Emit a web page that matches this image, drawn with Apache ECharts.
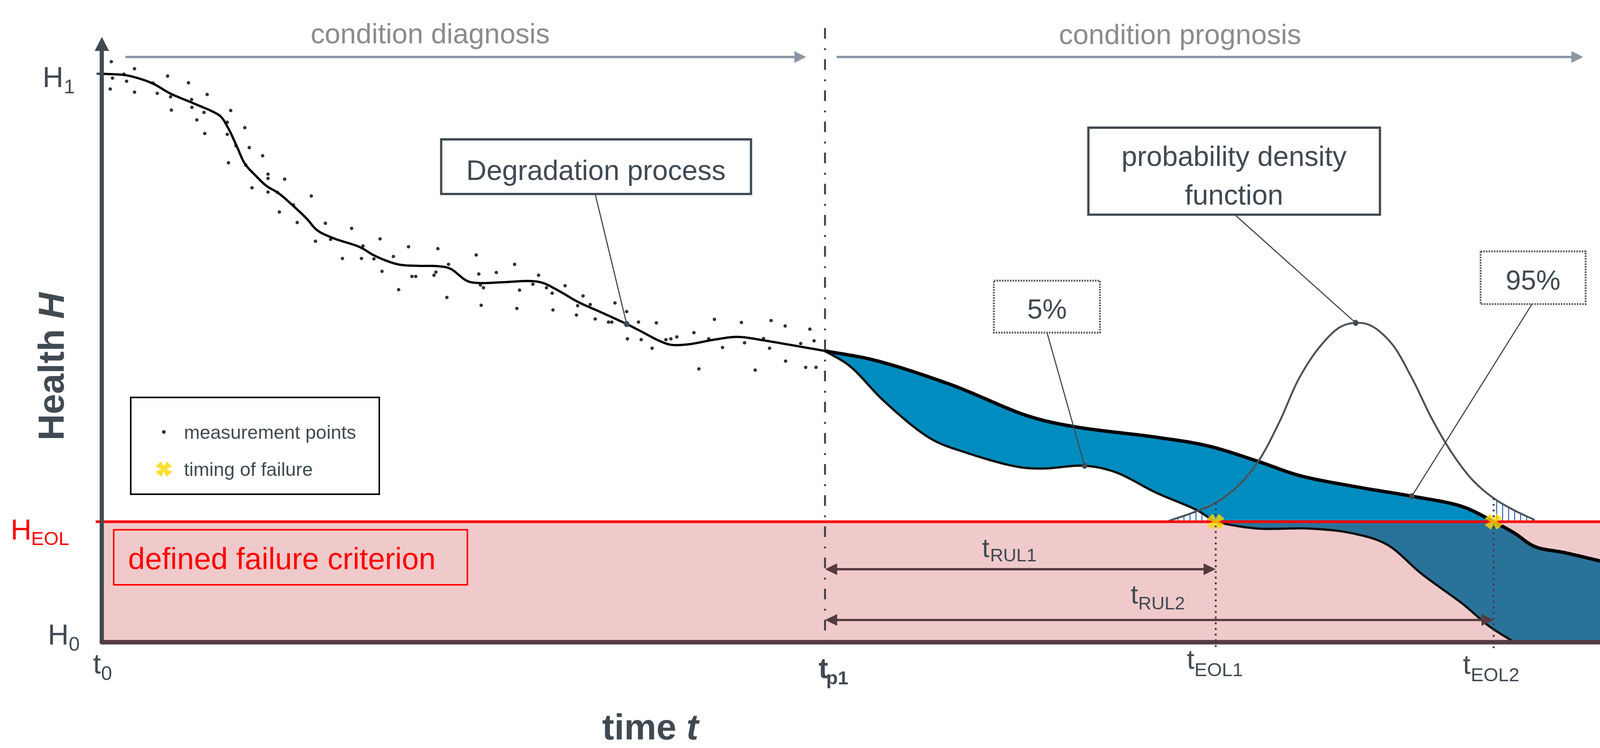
<!DOCTYPE html>
<html>
<head>
<meta charset="utf-8">
<title>Condition diagnosis and prognosis</title>
<script src="https://cdn.jsdelivr.net/npm/echarts@6.0.0/dist/echarts.min.js"></script>
<style>
html, body { margin: 0; padding: 0; background: #ffffff; width: 100%; height: 100%; overflow: hidden; }
#chart { width: 100%; height: 100%; }
</style>
</head>
<body>
<div id="chart"></div>
<script>
// ================= values =================
const timeRange = [0, 100];
const healthRange = [0, 105.25];
const H_1 = 100;
const H_EOL = 21.2;
const H_0 = 0;
const T_0 = 0;
const T_P1 = 48.27;
const T_EOL1 = 74.35;
const T_EOL2 = 92.9;

const healthTickValues = [H_1, H_EOL, H_0];
const healthTickLabels = [['H', '1'], ['H', 'EOL'], ['H', '0']];
const timeTickValues = [T_0, T_P1, T_EOL1, T_EOL2];
const timeTickLabels = [['t', '0'], ['t', 'p1'], ['t', 'EOL1'], ['t', 'EOL2']];
const rulLabels = [['t', 'RUL1'], ['t', 'RUL2']];
const rulEnds = [T_EOL1, T_EOL2];

const degradationProcess = [
  [0, 100], [1.47, 99.79], [2.11, 99.45], [3.35, 98.35], [4.59, 96.5], [6.01, 94.92],
  [7.61, 93.06], [7.97, 92.38], [8.5, 90.11], [9.03, 87.09], [9.56, 84.13], [10.27, 82.07],
  [10.98, 80.29], [11.8, 78.98], [12.79, 76.72], [13.67, 74.52], [14.38, 72.46], [15.45, 71.08],
  [17.22, 69.51], [18.11, 68.13], [19.0, 67.1], [19.89, 66.41], [21.11, 66.21], [22.45, 66.14],
  [23.24, 65.73], [24.4, 63.53], [25.16, 63.19], [26.71, 63.32], [28.67, 63.53], [29.45, 63.19],
  [30.59, 61.68], [31.76, 59.89], [33.33, 58.03], [35.03, 55.97], [36.05, 54.6], [37.21, 53.02],
  [37.98, 52.33], [39.14, 52.4], [40.89, 53.23], [42.44, 53.71], [44.19, 53.09], [45.74, 52.4],
  [48.27, 51.24]
];

const measurementPoints = [
  [0.63, 102.13], [2.18, 100.89], [4.39, 99.59], [5.78, 98.42], [0.71, 99.24], [1.47, 99.93],
  [1.65, 98.69], [0.56, 97.32], [2.18, 96.77], [3.42, 98.35], [3.7, 96.56], [4.59, 95.95],
  [4.64, 93.61], [5.99, 95.47], [6.01, 94.09], [7.03, 96.36], [6.82, 93.2], [6.34, 91.89],
  [6.87, 89.49], [8.6, 93.54], [8.37, 91.48], [8.37, 89.35], [9.54, 90.52], [8.95, 87.36],
  [9.84, 87.02], [8.45, 84.34], [9.61, 83.93], [10.73, 85.58], [11.09, 82.35], [11.09, 81.59],
  [12.2, 81.46], [10.02, 79.94], [11.09, 79.19], [11.72, 79.12], [13.98, 78.5], [12.79, 76.92],
  [11.85, 75.69], [13.04, 73.83], [14.92, 73.7], [16.67, 72.8], [14.26, 70.54], [15.27, 70.88],
  [18.57, 70.95], [17.43, 69.71], [20.47, 69.57], [16.06, 67.51], [17.33, 67.51], [18.16, 67.44],
  [19.46, 67.86], [18.7, 65.25], [20.7, 64.35], [20.95, 64.35], [19.81, 62.02], [22.43, 69.23],
  [23.14, 66.48], [22.3, 65.11], [22.17, 64.56], [23.03, 60.65], [24.99, 68.13], [25.16, 64.77],
  [26.33, 65.04], [27.55, 66.48], [25.27, 62.84], [25.47, 62.36], [25.32, 59.27], [27.88, 61.95],
  [27.7, 58.72], [28.77, 62.98], [29.15, 64.56], [29.68, 62.36], [30.06, 61.4], [30.11, 58.45],
  [30.92, 62.71], [32.12, 60.92], [31.76, 59.2], [32.6, 59.41], [31.68, 57.55], [32.93, 56.87],
  [33.82, 56.32], [34.04, 56.32], [34.25, 59.68], [35.03, 58.17], [35.82, 56.32], [37.01, 56.18],
  [35.08, 53.37], [36.0, 53.23], [36.73, 51.72], [39.52, 54.46], [37.65, 53.23], [37.98, 53.37],
  [38.38, 53.71], [40.51, 53.37], [40.89, 56.8], [41.43, 51.85], [42.69, 56.25], [42.9, 52.68],
  [44.17, 53.43], [44.67, 56.59], [45.61, 55.63], [44.57, 51.72], [46.65, 52.54], [47.26, 55.08],
  [47.54, 53.02], [39.85, 48.08], [43.61, 47.87], [45.64, 49.45], [46.98, 48.35], [47.67, 48.35]
];

const prognosisUpper = [
  [48.27, 51.24], [51.6, 49.59], [56.72, 45.26], [61.85, 39.77], [64.92, 37.91], [70.37, 36.06],
  [73.8, 34.55], [77.19, 31.8], [79.93, 29.33], [84.02, 27.2], [87.44, 25.69], [90.84, 23.83],
  [92.9, 21.2], [94.27, 19.23], [95.64, 16.83], [97.69, 15.73], [100, 14.29]
];

const prognosisLower = [
  [48.27, 51.24], [49.9, 48.63], [52.28, 42.24], [55.35, 35.78], [57.74, 33.31], [61.16, 30.84],
  [62.86, 30.56], [65.6, 31.04], [67.63, 29.94], [70.37, 26.31], [73.11, 23.21], [74.35, 21.2],
  [75.14, 20.74], [77.19, 19.99], [80.62, 19.99], [83.33, 19.23], [85.74, 17.24], [88.13, 11.95],
  [90.84, 6.73], [92.57, 2.88], [94.27, 0]
];

const probabilityDensity = [
  [71.23, 21.36], [72.76, 22.73], [74.3, 24.45], [75.83, 27.47], [77.19, 31.8], [78.56, 38.53],
  [79.93, 46.5], [81.3, 51.99], [82.65, 55.43], [83.69, 56.18], [84.7, 55.7], [86.07, 52.61],
  [87.44, 46.5], [88.81, 39.15], [90.18, 33.04], [91.53, 28.43], [92.9, 25.34], [94.27, 23.21],
  [95.64, 21.5]
];

const failureTimings = [[T_EOL1, H_EOL], [T_EOL2, H_EOL]];

// ================= page scale (layout designed for 4210 x 1916) =================
const VW = document.documentElement.clientWidth || window.innerWidth || 4210;
const VH = document.documentElement.clientHeight || window.innerHeight || 1916;
const SX = VW / 4210, SY = VH / 1916, SF = Math.min(SX, SY);
const X = v => v * SX, Y = v => v * SY, F = v => v * SF;

// ================= styling and layout =================
const FONT = '"Liberation Sans", Arial, Helvetica, sans-serif';
const COL = {
  axisY: '#414a53', axisX: '#553a40', text: '#414a53', phaseText: '#8c8c8c', phaseArrow: '#8a97a4',
  red: '#ff0000', pink: '#f0cacb', blue: '#008cbe', blueDark: '#29739a', hatch: '#1f5fb4',
  curve: '#000000', pdf: '#4b5259', leader: '#414a53', rul: '#553a40', eol: '#4a3b42',
  yellow: '#ffd700', legendBorder: '#000000'
};
const CROSS = 'path://M0,13L15,0L22,13L29,0L44,13L29,20L44,27L29,40L22,27L15,40L0,27L15,20Z';
const LEGEND_CROSS = 'path://M0,13L15,0L22,13L29,0L44,13L29,20L44,27L29,40L22,27L15,40L0,27L15,20ZM70,40L69.99,40L70,39.99Z';
const LEGEND_DOT = 'path://M0,0L0.01,0L0,0.01ZM70,40L69.99,40L70,39.99ZM17,20A5,5 0 1,0 27,20A5,5 0 1,0 17,20Z';

const LAYOUT = {
  grid: { left: 268, right: 0, top: 112.5, bottom: 271 },
  healthLabels: [
    { main: [-156, 31], sub: [-100, 48], size: 76, subSize: 52, color: COL.text },
    { main: [-240, 43], sub: [-186, 58], size: 76, subSize: 50, color: COL.red },
    { main: [-142, 3], sub: [-87, 20], size: 76, subSize: 52, color: COL.text }
  ],
  timeLabels: [
    { main: [-23, 77], sub: [-2, 95], size: 74, subSize: 52, bold: false },
    { main: [-17, 89], sub: [3, 106], size: 76, subSize: 50, bold: true },
    { main: [-76, 66], sub: [-56, 85], size: 72, subSize: 50, bold: false },
    { main: [-81, 79], sub: [-60, 98], size: 72, subSize: 50, bold: false }
  ],
  rul: { arrowH: [12.84, 3.91], label: [[58.75, 15.18], [68.67, 7.01]], sub: [[21, 13], [20, 17]],
         size: 70, subSize: 48, head: [32, 15], width: 6 },
  phases: [
    { text: 'condition diagnosis', textAt: [21.92, 105.56], arrow: [1.57, 47.01] },
    { text: 'condition prognosis', textAt: [71.97, 105.43], arrow: [49.04, 98.88] }
  ],
  phaseArrowH: 102.95, phaseHead: [31, 15], phaseSize: 74,
  tp1LineTop: 108.04, eolLineBottom: -1.5, hEolLineStart: -0.41,
  boxes: [
    { rect: [22.65, 88.46, 43.33, 78.85], lines: ['Degradation process'], textAt: [[32.98, 81.52]], size: 74,
      dotted: false, from: [32.93, 78.85], curve: 'degradation', targetT: 35.03 },
    { rect: [65.85, 90.52, 85.31, 75.21], lines: ['probability density', 'function'], textAt: [[75.57, 84.0], [75.57, 77.2]], size: 74,
      dotted: false, from: [75.62, 75.21], curve: 'pdfPeak' },
    { rect: [59.54, 63.6, 66.62, 54.46], lines: ['5%'], textAt: [[63.09, 57.07]], size: 72,
      dotted: true, from: [63.09, 54.46], curve: 'lower', targetT: 65.6 },
    { rect: [92.03, 68.75, 99.04, 59.48], lines: ['95%'], textAt: [[95.53, 62.16]], size: 72,
      dotted: true, from: [95.46, 59.48], curve: 'upper', targetT: 87.44 }
  ],
  failureBox: { rect: [0.79, 19.78, 24.4, 10.1], textAt: [1.75, 13.05], size: 80, text: 'defined failure criterion' },
  healthTitle: { at: [-3.4, 48.49], size: 96 },
  timeTitle: { at: [36.61, -16.9], size: 95 },
  hatchStep: 0.4
};

// ================= helpers =================
// centripetal Catmull-Rom through pixel points
function spline(pts, seg) {
  seg = seg || 16;
  const n = pts.length;
  if (n < 3) return pts.map(p => p.slice());
  const ext = [[2 * pts[0][0] - pts[1][0], 2 * pts[0][1] - pts[1][1]]].concat(pts,
    [[2 * pts[n - 1][0] - pts[n - 2][0], 2 * pts[n - 1][1] - pts[n - 2][1]]]);
  const d = (a, b) => Math.max(Math.pow(Math.hypot(b[0] - a[0], b[1] - a[1]), 0.5), 1e-4);
  const lerp = (a, b, ta, tb, t) => {
    const w = (t - ta) / (tb - ta);
    return [a[0] + (b[0] - a[0]) * w, a[1] + (b[1] - a[1]) * w];
  };
  const out = [];
  for (let i = 1; i < ext.length - 2; i++) {
    const P0 = ext[i - 1], P1 = ext[i], P2 = ext[i + 1], P3 = ext[i + 2];
    const t0 = 0, t1 = t0 + d(P0, P1), t2 = t1 + d(P1, P2), t3 = t2 + d(P2, P3);
    for (let s = 0; s < seg; s++) {
      const t = t1 + (t2 - t1) * s / seg;
      const A1 = lerp(P0, P1, t0, t1, t), A2 = lerp(P1, P2, t1, t2, t), A3 = lerp(P2, P3, t2, t3, t);
      const B1 = lerp(A1, A2, t0, t2, t), B2 = lerp(A2, A3, t1, t3, t);
      out.push(lerp(B1, B2, t1, t2, t));
    }
  }
  out.push(pts[n - 1].slice());
  return out;
}
function interp(curve, t) {
  for (let i = 0; i < curve.length - 1; i++) {
    const a = curve[i], b = curve[i + 1];
    if (t >= a[0] && t <= b[0]) return a[1] + (b[1] - a[1]) * (t - a[0]) / (b[0] - a[0]);
  }
  return t < curve[0][0] ? curve[0][1] : curve[curve.length - 1][1];
}
// text whose baseline sits at yBase (size given in design px)
function textEl(x, yBase, str, o) {
  const fs = F(o.size);
  return {
    type: 'text', x: x, y: yBase - 0.31 * fs, silent: true,
    style: {
      text: str, fontSize: fs, fontFamily: FONT,
      fontWeight: o.bold ? 'bold' : 'normal', fontStyle: o.italic ? 'italic' : 'normal',
      fill: o.color || COL.text,
      align: o.align || 'left', textAlign: o.align || 'left',
      verticalAlign: 'middle', textVerticalAlign: 'middle'
    }
  };
}
function lineEl(p1, p2, style) {
  return { type: 'line', silent: true, shape: { x1: p1[0], y1: p1[1], x2: p2[0], y2: p2[1] }, style: style };
}
function arrowHead(tip, dir, len, hw, color) {
  const l = X(len), h = Y(hw);
  return { type: 'polygon', silent: true,
    shape: { points: [[tip[0], tip[1]], [tip[0] - dir * l, tip[1] - h], [tip[0] - dir * l, tip[1] + h]] },
    style: { fill: color } };
}
function rectEl(api, r, style) {
  const a = api.coord([r[0], r[1]]), b = api.coord([r[2], r[3]]);
  return { type: 'rect', silent: true, shape: { x: a[0], y: a[1], width: b[0] - a[0], height: b[1] - a[1] }, style: style };
}
function subLabel(anchor, main, sub, off, o) {
  return [
    textEl(anchor[0] + X(off.main[0]), anchor[1] + Y(off.main[1]), main, { size: o.size, color: o.color, bold: o.bold }),
    textEl(anchor[0] + X(off.sub[0]), anchor[1] + Y(off.sub[1]), sub, { size: o.subSize, color: o.color, bold: o.bold })
  ];
}
function curveTarget(box) {
  if (box.curve === 'pdfPeak') {
    return probabilityDensity.reduce((m, p) => (p[1] > m[1] ? p : m), probabilityDensity[0]);
  }
  const c = box.curve === 'degradation' ? degradationProcess : box.curve === 'lower' ? prognosisLower : prognosisUpper;
  return [box.targetT, interp(c, box.targetT)];
}
const one = [[0, 0]];

// ================= chart =================
const chart = echarts.init(document.getElementById('chart'), null, { renderer: 'svg', width: VW, height: VH });

const option = {
  animation: false,
  backgroundColor: '#ffffff',
  grid: { containLabel: false, outerBoundsMode: 'none',
          left: X(LAYOUT.grid.left), right: X(LAYOUT.grid.right), top: Y(LAYOUT.grid.top), bottom: Y(LAYOUT.grid.bottom) },
  xAxis: {
    type: 'value', min: timeRange[0], max: timeRange[1], z: 10,
    axisLine: { show: true, onZero: true, lineStyle: { color: COL.axisX, width: F(12) } },
    axisTick: { show: false }, axisLabel: { show: false }, splitLine: { show: false }
  },
  yAxis: {
    type: 'value', min: healthRange[0], max: healthRange[1], z: 10,
    axisLine: { show: true, onZero: true, symbol: ['none', 'triangle'], symbolSize: [X(38), Y(36)],
                lineStyle: { color: COL.axisY, width: F(11) } },
    axisTick: { show: true, customValues: [H_1], length: X(14), lineStyle: { color: COL.axisY, width: F(6) } },
    axisLabel: { show: false }, splitLine: { show: false }
  },
  legend: {
    orient: 'vertical', left: X(344), top: Y(1018),
    padding: [Y(64), X(61), Y(40), X(65)], itemGap: Y(46), itemWidth: F(70), itemHeight: F(40),
    borderColor: COL.legendBorder, borderWidth: F(4), backgroundColor: '#ffffff',
    selectedMode: false,
    textStyle: { fontSize: F(50), color: COL.text, fontFamily: FONT },
    data: [
      { name: 'measurement points', icon: LEGEND_DOT },
      { name: 'timing of failure', icon: LEGEND_CROSS }
    ]
  },
  series: [
    { // failure criterion zone
      type: 'custom', name: 'failure zone', z: 1, silent: true, clip: false, data: one,
      renderItem: function (params, api) {
        return rectEl(api, [T_0, H_EOL, timeRange[1], H_0], { fill: COL.pink });
      }
    },
    { // hatched tails of the probability density
      type: 'custom', name: 'pdf tails', z: 2, silent: true, clip: false, data: one,
      renderItem: function (params, api) {
        const kids = [];
        const first = probabilityDensity[0][0], last = probabilityDensity[probabilityDensity.length - 1][0];
        [[first, T_EOL1], [T_EOL2, last]].forEach(function (rg) {
          for (let t = rg[0] + LAYOUT.hatchStep / 2; t < rg[1]; t += LAYOUT.hatchStep) {
            kids.push(lineEl(api.coord([t, H_EOL]), api.coord([t, interp(probabilityDensity, t)]),
              { stroke: COL.hatch, lineWidth: F(2.5) }));
          }
        });
        return { type: 'group', children: kids };
      }
    },
    { // prognosis band between the bounding degradation paths
      type: 'custom', name: 'prognosis band', z: 3, silent: true, clip: false, data: one,
      renderItem: function (params, api) {
        const up = spline(prognosisUpper.map(p => api.coord(p)));
        const lo = spline(prognosisLower.map(p => api.coord(p)));
        const yE = api.coord([0, H_EOL])[1], y0 = api.coord([0, H_0])[1];
        const loFill = lo.concat([api.coord([timeRange[1], H_0])]);
        const rev = loFill.slice().reverse();
        const top = p => [p[0], Math.min(p[1], yE)];
        const bot = p => [p[0], Math.min(Math.max(p[1], yE), y0)];
        return { type: 'group', children: [
          { type: 'polygon', silent: true, shape: { points: up.map(bot).concat(rev.map(bot)) }, style: { fill: COL.blueDark } },
          { type: 'polygon', silent: true, shape: { points: up.map(top).concat(rev.map(top)) }, style: { fill: COL.blue } },
          { type: 'polyline', silent: true, shape: { points: lo }, style: { fill: 'none', stroke: '#111111', lineWidth: F(6), lineJoin: 'round' } },
          { type: 'polyline', silent: true, shape: { points: up }, style: { fill: 'none', stroke: COL.curve, lineWidth: F(9), lineJoin: 'round' } }
        ] };
      }
    },
    { // degradation process
      type: 'custom', name: 'degradation process', z: 4, silent: true, clip: false, data: one,
      renderItem: function (params, api) {
        return { type: 'polyline', shape: { points: spline(degradationProcess.map(p => api.coord(p))) },
                 style: { fill: 'none', stroke: COL.curve, lineWidth: F(6), lineJoin: 'round' } };
      }
    },
    { // probability density function
      type: 'custom', name: 'probability density function', z: 5, silent: true, clip: false, data: one,
      renderItem: function (params, api) {
        return { type: 'polyline', shape: { points: spline(probabilityDensity.map(p => api.coord(p))) },
                 style: { fill: 'none', stroke: COL.pdf, lineWidth: F(5), lineJoin: 'round' } };
      }
    },
    {
      type: 'scatter', name: 'measurement points', z: 6, silent: true,
      data: measurementPoints, symbol: 'circle', symbolSize: F(9), itemStyle: { color: '#000000' }
    },
    { // reference lines and remaining-useful-life arrows
      type: 'custom', name: 'reference lines', z: 7, silent: true, clip: false, data: one,
      renderItem: function (params, api) {
        const kids = [];
        kids.push(lineEl(api.coord([LAYOUT.hEolLineStart, H_EOL]), api.coord([timeRange[1], H_EOL]),
          { stroke: COL.red, lineWidth: F(7) }));
        kids.push(lineEl(api.coord([T_P1, LAYOUT.tp1LineTop]), api.coord([T_P1, H_0]),
          { stroke: '#3a3f46', lineWidth: F(5), lineDash: [F(28), F(25), F(5), F(24)] }));
        [T_EOL1, T_EOL2].forEach(function (t) {
          kids.push(lineEl(api.coord([t, interp(probabilityDensity, t)]), api.coord([t, LAYOUT.eolLineBottom]),
            { stroke: COL.eol, lineWidth: F(5), lineDash: [F(5), F(10)] }));
        });
        const R = LAYOUT.rul;
        rulEnds.forEach(function (tEnd, i) {
          const a = api.coord([T_P1, R.arrowH[i]]), b = api.coord([tEnd, R.arrowH[i]]);
          kids.push(lineEl([a[0] + X(R.head[0] - 4), a[1]], [b[0] - X(R.head[0] - 4), b[1]], { stroke: COL.rul, lineWidth: F(R.width) }));
          kids.push(arrowHead(a, -1, R.head[0], R.head[1], COL.rul));
          kids.push(arrowHead(b, 1, R.head[0], R.head[1], COL.rul));
          const lp = api.coord(R.label[i]);
          kids.push(textEl(lp[0], lp[1], rulLabels[i][0], { size: R.size }));
          kids.push(textEl(lp[0] + X(R.sub[i][0]), lp[1] + Y(R.sub[i][1]), rulLabels[i][1], { size: R.subSize }));
        });
        return { type: 'group', children: kids };
      }
    },
    { // annotations, axis tick labels and titles
      type: 'custom', name: 'annotations', z: 8, silent: true, clip: false, data: one,
      renderItem: function (params, api) {
        const kids = [];
        // phase arrows
        LAYOUT.phases.forEach(function (ph) {
          const a = api.coord([ph.arrow[0], LAYOUT.phaseArrowH]), b = api.coord([ph.arrow[1], LAYOUT.phaseArrowH]);
          kids.push(lineEl(a, [b[0] - X(LAYOUT.phaseHead[0] - 4), b[1]], { stroke: COL.phaseArrow, lineWidth: F(6) }));
          kids.push(arrowHead(b, 1, LAYOUT.phaseHead[0], LAYOUT.phaseHead[1], COL.phaseArrow));
          const tp = api.coord(ph.textAt);
          kids.push(textEl(tp[0], tp[1], ph.text, { size: LAYOUT.phaseSize, color: COL.phaseText, align: 'center' }));
        });
        // callout boxes with leader lines
        LAYOUT.boxes.forEach(function (bx) {
          const tgt = api.coord(curveTarget(bx));
          kids.push(lineEl(api.coord(bx.from), tgt, { stroke: COL.leader, lineWidth: F(3) }));
          kids.push({ type: 'ellipse', silent: true, shape: { cx: tgt[0], cy: tgt[1], rx: F(7), ry: F(8) }, style: { fill: COL.leader } });
          kids.push(rectEl(api, bx.rect, bx.dotted
            ? { fill: '#ffffff', stroke: '#55595f', lineWidth: F(5), lineDash: [F(4), F(3)] }
            : { fill: '#ffffff', stroke: COL.leader, lineWidth: F(6) }));
          bx.lines.forEach(function (s, i) {
            const p = api.coord(bx.textAt[i]);
            kids.push(textEl(p[0], p[1], s, { size: bx.size, align: 'center' }));
          });
        });
        // failure criterion box
        const fb = LAYOUT.failureBox;
        kids.push(rectEl(api, fb.rect, { fill: 'none', stroke: COL.red, lineWidth: F(4) }));
        const fp = api.coord(fb.textAt);
        kids.push(textEl(fp[0], fp[1], fb.text, { size: fb.size, color: COL.red }));
        // health tick labels
        healthTickValues.forEach(function (v, i) {
          const o = LAYOUT.healthLabels[i];
          subLabel(api.coord([T_0, v]), healthTickLabels[i][0], healthTickLabels[i][1], o, o).forEach(k => kids.push(k));
        });
        // time tick labels
        timeTickValues.forEach(function (v, i) {
          const o = LAYOUT.timeLabels[i];
          subLabel(api.coord([v, H_0]), timeTickLabels[i][0], timeTickLabels[i][1], o,
            { size: o.size, subSize: o.subSize, color: COL.text, bold: o.bold }).forEach(k => kids.push(k));
        });
        // axis titles
        const hp = api.coord(LAYOUT.healthTitle.at);
        const hs = F(LAYOUT.healthTitle.size);
        kids.push({ type: 'text', silent: true, x: hp[0], y: hp[1], rotation: Math.PI / 2,
          style: { text: '{a|Health }{b|H}', fill: COL.text, fontSize: hs, fontFamily: FONT, fontWeight: 'bold',
            align: 'center', textAlign: 'center', verticalAlign: 'middle', textVerticalAlign: 'middle',
            rich: { a: { fontSize: hs, fontFamily: FONT, fontWeight: 'bold', fill: COL.text },
                    b: { fontSize: hs, fontFamily: FONT, fontWeight: 'bold', fontStyle: 'italic', fill: COL.text } } } });
        const tp = api.coord(LAYOUT.timeTitle.at);
        const ts = F(LAYOUT.timeTitle.size);
        kids.push({ type: 'text', silent: true, x: tp[0], y: tp[1] - 0.31 * ts,
          style: { text: '{a|time }{b|t}', fill: COL.text, fontSize: ts, fontFamily: FONT, fontWeight: 'bold',
            align: 'center', textAlign: 'center', verticalAlign: 'middle', textVerticalAlign: 'middle',
            rich: { a: { fontSize: ts, fontFamily: FONT, fontWeight: 'bold', fill: COL.text },
                    b: { fontSize: ts, fontFamily: FONT, fontWeight: 'bold', fontStyle: 'italic', fill: COL.text } } } });
        return { type: 'group', children: kids };
      }
    },
    {
      type: 'scatter', name: 'timing of failure', z: 9, silent: true,
      data: failureTimings, symbol: CROSS, symbolSize: [F(48), F(42)], itemStyle: { color: COL.yellow }
    }
  ]
};
chart.setOption(option);
</script>
</body>
</html>
